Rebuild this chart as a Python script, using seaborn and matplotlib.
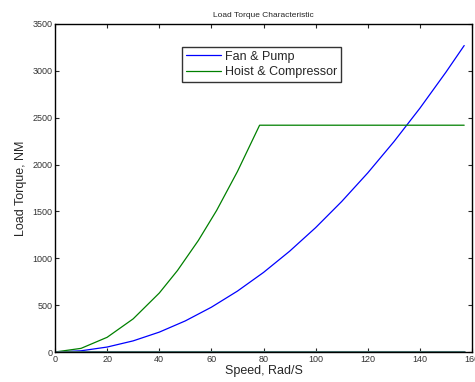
import matplotlib
matplotlib.use("Agg")
import matplotlib.pyplot as plt
import numpy as np
import pandas as pd
import seaborn as sns

# speed samples (rad/s) and load torque values
fan_speed = [0, 10, 20, 30, 40, 50, 60, 70, 80, 90, 100, 110, 120, 130, 140, 150, 157]
fan_torque = [0, 13, 53, 119, 212, 332, 478, 650, 849, 1075, 1327, 1606, 1911, 2243, 2601, 2986, 3270]

hoist_speed = [0, 10, 20, 30, 40, 47, 55, 62, 70, 78.5, 157]
hoist_torque = [0, 39, 157, 354, 629, 870, 1190, 1510, 1926, 2420, 2420]

base_speed = [0, 157]
base_torque = [0, 0]

sns.set_theme(style="ticks")
plt.rcParams["font.family"] = ["Liberation Sans", "DejaVu Sans"]

fig = plt.figure(figsize=(4.75, 3.82), dpi=100)
ax = fig.add_axes([0.1158, 0.0785, 0.8779, 0.8587])

fan = pd.DataFrame({"speed": fan_speed, "torque": fan_torque})
hoist = pd.DataFrame({"speed": hoist_speed, "torque": hoist_torque})
base = pd.DataFrame({"speed": base_speed, "torque": base_torque})

sns.lineplot(data=fan, x="speed", y="torque", color="#0000ff", linewidth=0.9,
             label="Fan & Pump", ax=ax)
sns.lineplot(data=hoist, x="speed", y="torque", color="#008000", linewidth=0.9,
             label="Hoist & Compressor", ax=ax)
sns.lineplot(data=base, x="speed", y="torque", color="#4a7a78", linewidth=2.2,
             legend=False, ax=ax)

ax.set_xlim(0, 160)
ax.set_ylim(0, 3500)
ax.set_xticks(np.arange(0, 161, 20))
ax.set_yticks(np.arange(0, 3501, 500))
ax.tick_params(direction="in", length=3, labelsize=6.5, labelcolor="#333333",
               top=True, right=True, width=0.8, pad=2)
for s in ax.spines.values():
    s.set_color("black")
    s.set_linewidth(1.0)

ax.set_title("Load Torque Characteristic", fontsize=6, pad=5)
ax.set_xlabel("Speed, Rad/S", fontsize=9, labelpad=1)
ax.set_ylabel("Load Torque, NM", fontsize=9, labelpad=4)

leg = ax.legend(loc="upper left", bbox_to_anchor=(0.305, 0.93), fontsize=9,
                frameon=True, fancybox=False, borderpad=0.3, labelspacing=0.3,
                handlelength=2.8, handletextpad=0.3, borderaxespad=0)
leg.get_frame().set_edgecolor("black")
leg.get_frame().set_linewidth(1.0)

fig.savefig("out.png", dpi=100)
